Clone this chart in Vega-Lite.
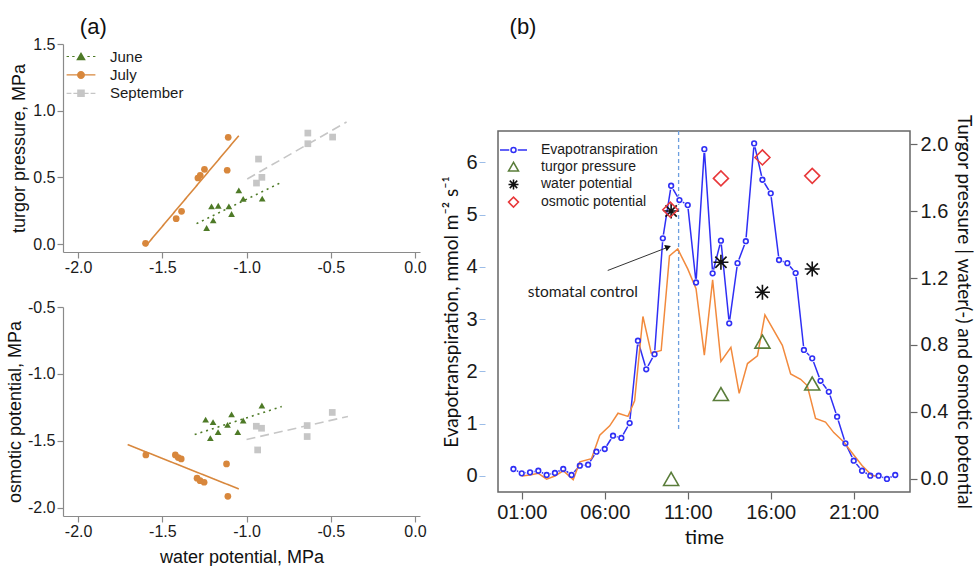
{
  "$schema": "https://vega.github.io/schema/vega-lite/v6.json",
  "background": "white",
  "padding": {"left": 6, "top": 16, "right": 0, "bottom": 0},
  "config": {
    "axis": {"grid": false, "labelFont": "Liberation Sans", "titleFont": "Liberation Sans", "titleFontWeight": "normal", "labelColor": "#1a1a1a", "titleColor": "#111111", "domainColor": "#8a8a8a", "tickColor": "#8a8a8a", "labelFlush": false, "labelOverlap": false, "domainWidth": 1.2, "tickWidth": 1.2},
    "legend": {"labelFont": "Liberation Sans", "labelColor": "#1a1a1a"},
    "title": {"font": "Liberation Sans", "fontWeight": "normal", "color": "#111111"}
  },
  "datasets": {
    "scatterTop": [
      {"month": "June", "x": -1.208, "y": 0.282}, {"month": "June", "x": -1.168, "y": 0.287}, {"month": "June", "x": -1.105, "y": 0.282},
      {"month": "June", "x": -1.089, "y": 0.225}, {"month": "June", "x": -1.198, "y": 0.177}, {"month": "June", "x": -1.237, "y": 0.12},
      {"month": "June", "x": -1.046, "y": 0.402}, {"month": "June", "x": -1.02, "y": 0.338}, {"month": "June", "x": -0.907, "y": 0.34},
      {"month": "July", "x": -1.6, "y": 0.005}, {"month": "July", "x": -1.418, "y": 0.19}, {"month": "July", "x": -1.386, "y": 0.245},
      {"month": "July", "x": -1.289, "y": 0.495}, {"month": "July", "x": -1.275, "y": 0.515}, {"month": "July", "x": -1.25, "y": 0.56},
      {"month": "July", "x": -1.109, "y": 0.8}, {"month": "July", "x": -1.115, "y": 0.553},
      {"month": "September", "x": -0.929, "y": 0.637}, {"month": "September", "x": -0.941, "y": 0.457}, {"month": "September", "x": -0.909, "y": 0.5},
      {"month": "September", "x": -0.636, "y": 0.832}, {"month": "September", "x": -0.636, "y": 0.752}, {"month": "September", "x": -0.489, "y": 0.802}
    ],
    "linesTop": [
      {"month": "June", "x": -1.297, "y": 0.153, "x2": -0.792, "y2": 0.463},
      {"month": "July", "x": -1.6, "y": -0.017, "x2": -1.046, "y2": 0.8125},
      {"month": "September", "x": -0.996, "y": 0.4875, "x2": -0.406, "y2": 0.915}
    ],
    "scatterBottom": [
      {"month": "June", "x": -1.243, "y": -1.34}, {"month": "June", "x": -1.199, "y": -1.36}, {"month": "June", "x": -1.215, "y": -1.479},
      {"month": "June", "x": -1.169, "y": -1.434}, {"month": "June", "x": -1.113, "y": -1.38}, {"month": "June", "x": -1.089, "y": -1.302},
      {"month": "June", "x": -1.052, "y": -1.434}, {"month": "June", "x": -1.02, "y": -1.347}, {"month": "June", "x": -0.909, "y": -1.235},
      {"month": "July", "x": -1.598, "y": -1.604}, {"month": "July", "x": -1.423, "y": -1.604}, {"month": "July", "x": -1.406, "y": -1.624},
      {"month": "July", "x": -1.388, "y": -1.634}, {"month": "July", "x": -1.294, "y": -1.778}, {"month": "July", "x": -1.276, "y": -1.796},
      {"month": "July", "x": -1.252, "y": -1.808}, {"month": "July", "x": -1.119, "y": -1.671}, {"month": "July", "x": -1.111, "y": -1.913},
      {"month": "September", "x": -0.942, "y": -1.39}, {"month": "September", "x": -0.911, "y": -1.405}, {"month": "September", "x": -0.934, "y": -1.567},
      {"month": "September", "x": -0.64, "y": -1.385}, {"month": "September", "x": -0.64, "y": -1.467}, {"month": "September", "x": -0.491, "y": -1.287}
    ],
    "linesBottom": [
      {"month": "June", "x": -1.308, "y": -1.452, "x2": -0.791, "y2": -1.243},
      {"month": "July", "x": -1.706, "y": -1.527, "x2": -1.046, "y2": -1.858},
      {"month": "September", "x": -1.0, "y": -1.489, "x2": -0.398, "y2": -1.317}
    ],
    "et": [
      {"h": 0.5, "v": 0.134}, {"h": 1, "v": 0.051}, {"h": 1.5, "v": 0.07}, {"h": 2, "v": 0.1}, {"h": 2.5, "v": 0.02},
      {"h": 3, "v": 0.057}, {"h": 3.5, "v": 0.134}, {"h": 4, "v": 0.02}, {"h": 4.5, "v": 0.197}, {"h": 5, "v": 0.216},
      {"h": 5.5, "v": 0.465}, {"h": 6, "v": 0.516}, {"h": 6.5, "v": 0.77}, {"h": 7, "v": 0.727}, {"h": 7.5, "v": 1.013},
      {"h": 8, "v": 2.587}, {"h": 8.5, "v": 2.04}, {"h": 9, "v": 2.33}, {"h": 9.5, "v": 4.545}, {"h": 10, "v": 5.55},
      {"h": 10.5, "v": 5.277}, {"h": 11, "v": 5.18}, {"h": 11.5, "v": 3.7}, {"h": 12, "v": 6.25}, {"h": 12.5, "v": 3.875},
      {"h": 13, "v": 4.5}, {"h": 13.5, "v": 2.92}, {"h": 14, "v": 4.07}, {"h": 14.5, "v": 4.49}, {"h": 15, "v": 6.36},
      {"h": 15.5, "v": 5.665}, {"h": 16, "v": 5.405}, {"h": 16.5, "v": 4.13}, {"h": 17, "v": 4.07}, {"h": 17.5, "v": 3.88},
      {"h": 18, "v": 2.41}, {"h": 18.5, "v": 2.25}, {"h": 19, "v": 1.82}, {"h": 19.5, "v": 1.61}, {"h": 20, "v": 1.134},
      {"h": 20.5, "v": 0.625}, {"h": 21, "v": 0.293}, {"h": 21.5, "v": 0.1}, {"h": 22, "v": 0.006}, {"h": 22.5, "v": 0.006},
      {"h": 23, "v": -0.057}, {"h": 23.5, "v": 0.019}
    ],
    "orange": [
      {"h": 1.0, "v": 0.0}, {"h": 1.5, "v": 0.02}, {"h": 2.0, "v": 0.05}, {"h": 2.5, "v": -0.06}, {"h": 3.0, "v": 0.0},
      {"h": 3.5, "v": 0.1}, {"h": 4.1, "v": -0.07}, {"h": 4.5, "v": 0.27}, {"h": 5.2, "v": 0.33}, {"h": 5.7, "v": 0.78},
      {"h": 6.3, "v": 0.96}, {"h": 6.8, "v": 1.2}, {"h": 7.4, "v": 1.14}, {"h": 7.8, "v": 1.44}, {"h": 8.3, "v": 3.05},
      {"h": 8.8, "v": 2.35}, {"h": 9.4, "v": 2.4}, {"h": 9.9, "v": 4.21}, {"h": 10.4, "v": 4.34}, {"h": 11.0, "v": 3.96},
      {"h": 11.5, "v": 3.58}, {"h": 12.0, "v": 2.31}, {"h": 12.5, "v": 3.75}, {"h": 13.0, "v": 2.19}, {"h": 13.6, "v": 2.46},
      {"h": 14.1, "v": 1.58}, {"h": 14.6, "v": 2.15}, {"h": 15.2, "v": 2.3}, {"h": 15.65, "v": 3.08}, {"h": 16.7, "v": 2.5},
      {"h": 17.2, "v": 1.95}, {"h": 17.8, "v": 1.85}, {"h": 18.2, "v": 1.73}, {"h": 18.7, "v": 1.1}, {"h": 19.3, "v": 1.03},
      {"h": 19.8, "v": 0.83}, {"h": 20.4, "v": 0.65}, {"h": 21.0, "v": 0.4}, {"h": 21.5, "v": 0.2}, {"h": 22.1, "v": 0.01},
      {"h": 22.4, "v": 0.0}
    ],
    "markers": [
      {"series": "turgor pressure", "h": 10.0, "r": 0.0}, {"series": "turgor pressure", "h": 13.0, "r": 0.507},
      {"series": "turgor pressure", "h": 15.5, "r": 0.82}, {"series": "turgor pressure", "h": 18.5, "r": 0.57},
      {"series": "water potential", "h": 10.0, "r": 1.6}, {"series": "water potential", "h": 13.0, "r": 1.294},
      {"series": "water potential", "h": 15.5, "r": 1.115}, {"series": "water potential", "h": 18.5, "r": 1.254},
      {"series": "osmotic potential", "h": 9.95, "r": 1.608}, {"series": "osmotic potential", "h": 13.0, "r": 1.795},
      {"series": "osmotic potential", "h": 15.5, "r": 1.92}, {"series": "osmotic potential", "h": 18.5, "r": 1.81}
    ],
    "stomata": [{"h": 10.45, "v": 0.9, "v2": 6.6}],
    "arrow": [{"h": 6.18, "v": 3.93, "h2": 9.85, "v2": 4.38}],
    "arrowhead": [{"h": 9.82, "v": 4.38}],
    "note": [{"h": 1.36, "v": 3.52, "label": "stomatal control"}]
  },
  "spacing": 15,
  "resolve": {"scale": {"color": "independent", "shape": "independent", "strokeDash": "independent"}},
  "hconcat": [
    {
      "spacing": -2,
      "resolve": {"scale": {"color": "independent", "shape": "independent", "strokeDash": "independent"}},
      "vconcat": [
        {
          "width": 357, "height": 22,
          "view": {"stroke": null},
          "data": {"values": [{"label": "(a)", "x": -1.91}]},
          "mark": {"type": "text", "fontSize": 22, "font": "Liberation Sans", "color": "#111111"},
          "encoding": {
            "text": {"field": "label"},
            "x": {"field": "x", "type": "quantitative", "scale": {"domain": [-2.09, 0.03], "nice": false, "zero": false}, "axis": null}
          }
        },
        {
          "spacing": 24,
          "resolve": {"scale": {"color": "independent", "shape": "independent", "strokeDash": "independent"}},
          "vconcat": [
            {
              "width": 357, "height": 208,
              "view": {"stroke": null},
              "encoding": {
                "x": {"field": "x", "type": "quantitative", "scale": {"domain": [-2.09, 0.03], "nice": false, "zero": false},
                  "axis": {"values": [-2, -1.5, -1, -0.5, 0], "labelExpr": "replace(format(datum.value,'.1f'),'\u2212','-')", "title": null, "tickSize": 6, "labelPadding": 1, "labelFontSize": 16}},
                "y": {"field": "y", "type": "quantitative", "scale": {"domain": [-0.06, 1.5], "nice": false, "zero": false},
                  "axis": {"values": [0, 0.5, 1, 1.5], "labelExpr": "replace(format(datum.value,'.1f'),'\u2212','-')", "title": "turgor pressure, MPa", "titleFontSize": 18, "titlePadding": 4, "tickSize": 6, "labelPadding": 2, "labelFontSize": 16}}
              },
              "layer": [
                {
                  "data": {"name": "linesTop"},
                  "mark": {"type": "rule", "strokeWidth": 1.6},
                  "encoding": {
                    "x2": {"field": "x2"}, "y2": {"field": "y2"},
                    "color": {"field": "month", "type": "nominal", "scale": {"domain": ["June", "July", "September"], "range": ["#4e7a27", "#d8873c", "#c6c6c6"]}, "legend": null},
                    "strokeDash": {"field": "month", "type": "nominal", "scale": {"domain": ["June", "July", "September"], "range": [[2, 4], [1, 0], [9, 5]]}, "legend": null}
                  }
                },
                {
                  "data": {"name": "scatterTop"},
                  "mark": {"type": "point", "filled": true, "size": 45, "opacity": 1},
                  "encoding": {
                    "color": {"field": "month", "type": "nominal", "scale": {"domain": ["June", "July", "September"], "range": ["#4e7a27", "#d8873c", "#c6c6c6"]}, "legend": null},
                    "shape": {"field": "month", "type": "nominal", "scale": {"domain": ["June", "July", "September"], "range": ["triangle-up", "circle", "square"]}, "legend": null}
                  }
                },
                {
                  "data": {"name": "scatterTop"},
                  "transform": [{"filter": "false"}],
                  "mark": {"type": "point", "filled": true, "opacity": 1},
                  "encoding": {
                    "color": {"field": "month", "type": "nominal", "scale": {"domain": ["June", "July", "September"], "range": ["#4e7a27", "#d8873c", "#c6c6c6"]},
                      "legend": {"title": null, "orient": "none", "legendX": 10.5, "legendY": 5, "symbolSize": 64, "labelFontSize": 15, "labelOffset": 21.5, "rowPadding": 2.4, "symbolStrokeWidth": 0}},
                    "shape": {"field": "month", "type": "nominal", "scale": {"domain": ["June", "July", "September"], "range": [
                      "M-3.6,-0.15L-3,-0.15L-3,0.15L-3.6,0.15ZM-2.2,-0.15L-1.6,-0.15L-1.6,0.15L-2.2,0.15ZM1.6,-0.15L2.2,-0.15L2.2,0.15L1.6,0.15ZM3,-0.15L3.6,-0.15L3.6,0.15L3,0.15ZM0,-1.1L1.2,0.95L-1.2,0.95Z",
                      "M-3.6,-0.15L3.6,-0.15L3.6,0.15L-3.6,0.15ZM1,0A1,1,0,1,1,-1,0A1,1,0,1,1,1,0Z",
                      "M-3.6,-0.15L-2.4,-0.15L-2.4,0.15L-3.6,0.15ZM-1.9,-0.15L-0.9,-0.15L-0.9,0.15L-1.9,0.15ZM0.9,-0.15L1.9,-0.15L1.9,0.15L0.9,0.15ZM2.4,-0.15L3.6,-0.15L3.6,0.15L2.4,0.15ZM-0.95,-0.95L0.95,-0.95L0.95,0.95L-0.95,0.95Z"]},
                      "legend": {"title": null, "orient": "none", "legendX": 10.5, "legendY": 5, "symbolSize": 64, "labelFontSize": 15, "labelOffset": 21.5, "rowPadding": 2.4, "symbolStrokeWidth": 0}}
                  }
                }
              ],
              "resolve": {"scale": {"color": "independent", "shape": "independent"}}
            },
            {
              "width": 357, "height": 209,
              "view": {"stroke": null},
              "encoding": {
                "x": {"field": "x", "type": "quantitative", "scale": {"domain": [-2.09, 0.03], "nice": false, "zero": false},
                  "axis": {"values": [-2, -1.5, -1, -0.5, 0], "labelExpr": "replace(format(datum.value,'.1f'),'\u2212','-')", "title": "water potential, MPa", "titleFontSize": 18, "titlePadding": 9, "tickSize": 6, "labelPadding": 1, "labelFontSize": 16}},
                "y": {"field": "y", "type": "quantitative", "scale": {"domain": [-2.06, -0.5], "nice": false, "zero": false},
                  "axis": {"values": [-2, -1.5, -1, -0.5], "labelExpr": "replace(format(datum.value,'.1f'),'\u2212','-')", "title": "osmotic potential, MPa", "titleFontSize": 18, "titlePadding": 3, "tickSize": 6, "labelPadding": 2, "labelFontSize": 16}}
              },
              "layer": [
                {
                  "data": {"name": "linesBottom"},
                  "mark": {"type": "rule", "strokeWidth": 1.6},
                  "encoding": {
                    "x2": {"field": "x2"}, "y2": {"field": "y2"},
                    "color": {"field": "month", "type": "nominal", "scale": {"domain": ["June", "July", "September"], "range": ["#4e7a27", "#d8873c", "#c6c6c6"]}, "legend": null},
                    "strokeDash": {"field": "month", "type": "nominal", "scale": {"domain": ["June", "July", "September"], "range": [[2, 4], [1, 0], [9, 5]]}, "legend": null}
                  }
                },
                {
                  "data": {"name": "scatterBottom"},
                  "mark": {"type": "point", "filled": true, "size": 45, "opacity": 1},
                  "encoding": {
                    "color": {"field": "month", "type": "nominal", "scale": {"domain": ["June", "July", "September"], "range": ["#4e7a27", "#d8873c", "#c6c6c6"]}, "legend": null},
                    "shape": {"field": "month", "type": "nominal", "scale": {"domain": ["June", "July", "September"], "range": ["triangle-up", "circle", "square"]}, "legend": null}
                  }
                }
              ]
            }
          ]
        }
      ]
    },
    {
      "spacing": 75,
      "resolve": {"scale": {"color": "independent", "shape": "independent", "strokeDash": "independent"}},
      "vconcat": [
        {
          "width": 50, "height": 22,
          "view": {"stroke": null},
          "data": {"values": [{"label": "(b)"}]},
          "mark": {"type": "text", "fontSize": 22, "font": "Liberation Sans", "color": "#111111"},
          "encoding": {"text": {"field": "label"}}
        },
        {
          "width": 412, "height": 361,
          "view": {"stroke": "#666666", "strokeWidth": 1.5},
          "layer": [
            {
              "encoding": {
                "x": {"field": "h", "type": "quantitative", "scale": {"domain": [-0.43, 24.39], "nice": false, "zero": false},
                  "axis": {"values": [1, 6, 11, 16, 21], "labelExpr": "(datum.value < 10 ? '0' : '') + datum.value + ':00'", "domain": false, "tickSize": 7, "tickColor": "#666666", "labelPadding": 3, "labelFontSize": 20, "title": "time", "titleFont": "Lato", "titleFontSize": 20, "titlePadding": 5}},
                "y": {"field": "v", "type": "quantitative", "scale": {"domain": [-0.306, 6.597], "nice": false, "zero": false},
                  "axis": {"values": [0, 1, 2, 3, 4, 5, 6], "format": "d", "domain": false, "tickSize": 19, "tickDash": [0, 13, 6, 100], "tickColor": "#9cbde8", "labelPadding": 2, "labelFontSize": 20, "title": "Evapotranspiration, mmol m\u207b\u00b2 s\u207b\u00b9", "titleFont": "Lato", "titleFontSize": 19, "titlePadding": 4}}
              },
              "layer": [
                {"data": {"name": "stomata"}, "mark": {"type": "rule", "color": "#6d9fe0", "strokeDash": [4, 3], "strokeWidth": 1.3}, "encoding": {"y2": {"field": "v2"}}},
                {"data": {"name": "et"}, "mark": {"type": "line", "color": "#2f2ff5", "strokeWidth": 1.5}, "encoding": {}},
                {"data": {"name": "et"}, "mark": {"type": "point", "filled": true, "color": "white", "size": 60, "opacity": 1}, "encoding": {}},
                {"data": {"name": "orange"}, "mark": {"type": "line", "color": "#f28a3d", "strokeWidth": 1.5}, "encoding": {}},
                {"data": {"name": "et"}, "mark": {"type": "point", "filled": false, "color": "#2f2ff5", "size": 22, "strokeWidth": 1.6, "opacity": 1}, "encoding": {}},
                {"data": {"name": "arrow"}, "mark": {"type": "rule", "color": "#333333", "strokeWidth": 1}, "encoding": {"x2": {"field": "h2"}, "y2": {"field": "v2"}}},
                {"data": {"name": "arrowhead"}, "mark": {"type": "point", "shape": "triangle-right", "filled": true, "color": "#111111", "size": 45, "angle": 338.5, "opacity": 1}, "encoding": {}},
                {"data": {"name": "note"}, "mark": {"type": "text", "align": "left", "baseline": "middle", "font": "Lato", "fontSize": 15.5, "color": "#1a1a1a"}, "encoding": {"text": {"field": "label"}}}
              ]
            },
            {
              "data": {"name": "markers"},
              "mark": {"type": "point", "filled": false, "size": 225, "strokeWidth": 1.6, "opacity": 1},
              "encoding": {
                "x": {"field": "h", "type": "quantitative", "scale": {"domain": [-0.43, 24.39], "nice": false, "zero": false},
                  "axis": {"values": [1, 6, 11, 16, 21], "labelExpr": "(datum.value < 10 ? '0' : '') + datum.value + ':00'", "domain": false, "tickSize": 7, "tickColor": "#666666", "labelPadding": 3, "labelFontSize": 20, "title": "time", "titleFont": "Lato", "titleFontSize": 20, "titlePadding": 5}},
                "y": {"field": "r", "type": "quantitative", "scale": {"domain": [-0.078, 2.078], "nice": false, "zero": false},
                  "axis": {"orient": "right", "values": [0, 0.4, 0.8, 1.2, 1.6, 2.0], "format": ".1f", "domain": false, "tickSize": 7, "tickColor": "#666666", "labelPadding": 3, "labelFontSize": 20, "title": "Turgor pressure | water(-) and osmotic potential", "titleFont": "Lato", "titleFontSize": 19, "titlePadding": 6}},
                "color": {"field": "series", "type": "nominal",
                  "scale": {"domain": ["Evapotranspiration", "turgor pressure", "water potential", "osmotic potential"], "range": ["#2f2ff5", "#5a7d3a", "#111111", "#e8383a"]},
                  "legend": {"title": null, "orient": "none", "legendX": 8.5, "legendY": 12, "symbolSize": 100, "symbolStrokeWidth": 1.5, "labelFontSize": 14, "labelOffset": 20.5, "rowPadding": 1.7}},
                "shape": {"field": "series", "type": "nominal",
                  "scale": {"domain": ["Evapotranspiration", "turgor pressure", "water potential", "osmotic potential"], "range": [
                    "M-2.7,0L-0.85,0M0.85,0L2.7,0M0.5,0A0.5,0.5,0,1,1,-0.5,0A0.5,0.5,0,1,1,0.5,0",
                    "triangle-up",
                    "M0,-1L0,1M-1,0L1,0M-0.75,-0.75L0.75,0.75M-0.75,0.75L0.75,-0.75",
                    "diamond"]},
                  "legend": {"title": null, "orient": "none", "legendX": 8.5, "legendY": 12, "symbolSize": 100, "symbolStrokeWidth": 1.5, "labelFontSize": 14, "labelOffset": 20.5, "rowPadding": 1.7}}
              }
            }
          ],
          "resolve": {"scale": {"y": "independent"}}
        }
      ]
    }
  ]
}
